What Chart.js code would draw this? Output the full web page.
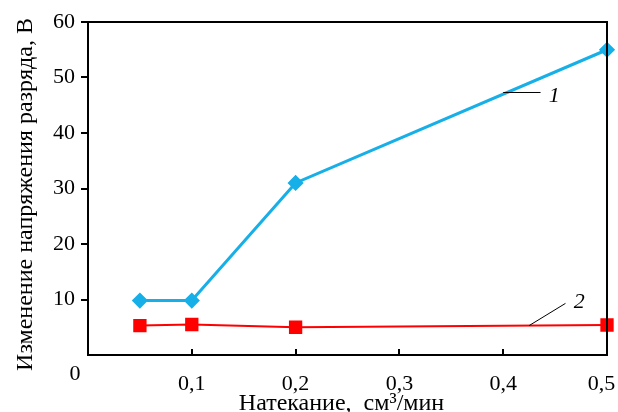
<!doctype html>
<html lang="ru">
<head>
<meta charset="utf-8">
<title>Изменение напряжения разряда</title>
<style>
  html, body { margin: 0; padding: 0; background: #fff; }
  #wrap { width: 618px; height: 412px; position: relative; }
</style>
</head>
<body>
<div id="wrap"><canvas id="chart"></canvas></div>
<script src="https://cdn.jsdelivr.net/npm/chart.js"></script>
<script>
// values
const flow = [0.05, 0.1, 0.2, 0.5]
const curve1 = [9.8, 9.8, 31, 55]
const curve2 = [5.3, 5.5, 5.0, 5.4]
const xTicks = [0.1, 0.2, 0.3, 0.4, 0.5]
const yTicks = [10, 20, 30, 40, 50, 60]
const curveLabels = ['1', '2']

// leader lines for the curve numbers, in data units: [from x, from y, to x, to y, text x, text y]
const leaders = [
  [0.4, 47.3, 0.436, 47.3, 0.444, 46.7],
  [0.425, 5.3, 0.460, 9.3, 0.468, 9.6]
]

const serif = '"Liberation Serif", "Times New Roman", serif'
const toPoints = (ys) => flow.map((x, i) => ({ x: x, y: ys[i] }))
// last label sits against the right edge, pad it so it stays on the canvas
const comma = (v) => String(v).replace('.', ',') + (v === 0.5 ? '  ' : '')

const decor = {
  id: 'decor',
  afterDatasetsDraw(chart) {
    const { ctx, chartArea: a, scales } = chart
    const sx = scales.x, sy = scales.y
    ctx.save()
    // frame
    ctx.strokeStyle = '#000'
    ctx.lineWidth = 2
    ctx.strokeRect(a.left, a.top, a.right - a.left, a.bottom - a.top)
    // x ticks point inward
    xTicks.forEach((v) => {
      const px = Math.round(sx.getPixelForValue(v))
      ctx.beginPath()
      ctx.moveTo(px, a.bottom)
      ctx.lineTo(px, a.bottom - 6)
      ctx.stroke()
    })
    // zero label in the corner
    ctx.fillStyle = '#000'
    ctx.font = '22px ' + serif
    ctx.textAlign = 'center'
    ctx.textBaseline = 'middle'
    ctx.fillText('0', a.left - 13, a.bottom + 19)
    // curve numbers
    ctx.lineWidth = 1
    ctx.font = 'italic 22px ' + serif
    ctx.textAlign = 'left'
    leaders.forEach((l, i) => {
      ctx.beginPath()
      ctx.moveTo(sx.getPixelForValue(l[0]), sy.getPixelForValue(l[1]))
      ctx.lineTo(sx.getPixelForValue(l[2]), sy.getPixelForValue(l[3]))
      ctx.stroke()
      ctx.fillText(curveLabels[i], sx.getPixelForValue(l[4]), sy.getPixelForValue(l[5]))
    })
    ctx.restore()
  }
}

new Chart(document.getElementById('chart'), {
  type: 'scatter',
  data: {
    datasets: [{
      label: '1',
      data: toPoints(curve1),
      showLine: true,
      borderColor: '#17AFE8',
      backgroundColor: '#17AFE8',
      borderWidth: 3,
      pointStyle: 'rectRot',
      pointRadius: 6,
      pointHoverRadius: 6,
      clip: false
    },
    {
      label: '2',
      data: toPoints(curve2),
      showLine: true,
      borderColor: '#FF0000',
      backgroundColor: '#FF0000',
      borderWidth: 2,
      pointStyle: 'rect',
      pointRadius: 8,
      pointHoverRadius: 8,
      clip: false
    }]
  },
  options: {
    responsive: true,
    maintainAspectRatio: false,
    animation: false,
    events: [],
    layout: { padding: { top: 22, right: 11, left: 0, bottom: 0 } },
    plugins: {
      legend: { display: false },
      tooltip: { enabled: false }
    },
    scales: {
      x: {
        type: 'linear',
        min: 0,
        max: 0.5,
        afterFit(scale) {
          scale.height = 57
          scale.paddingRight = 0
          scale.paddingLeft = 0
        },
        afterBuildTicks(scale) { scale.ticks = xTicks.map((v) => ({ value: v })) },
        border: { display: false },
        grid: { display: false },
        ticks: {
          color: '#000',
          font: { family: serif, size: 22 },
          padding: 8,
          maxRotation: 0,
          callback: (v) => comma(v)
        },
        title: {
          display: true,
          text: 'Натекание,  см³/мин  ',
          color: '#000',
          font: { family: serif, size: 24, lineHeight: 0.7 },
          padding: { top: 0, bottom: 0 }
        }
      },
      y: {
        min: 0,
        max: 60,
        afterFit(scale) { scale.width = 88 },
        afterBuildTicks(scale) { scale.ticks = yTicks.map((v) => ({ value: v })) },
        border: { display: false },
        grid: {
          drawOnChartArea: false,
          drawTicks: true,
          tickLength: 7,
          color: '#000',
          lineWidth: 2
        },
        ticks: {
          color: '#000',
          font: { family: serif, size: 22 },
          padding: 6
        },
        title: {
          display: true,
          text: 'Изменение напряжения разряда, В  ',
          color: '#000',
          font: { family: serif, size: 24 },
          padding: { top: 11, bottom: 0 }
        }
      }
    }
  },
  plugins: [decor]
})
</script>
</body>
</html>
